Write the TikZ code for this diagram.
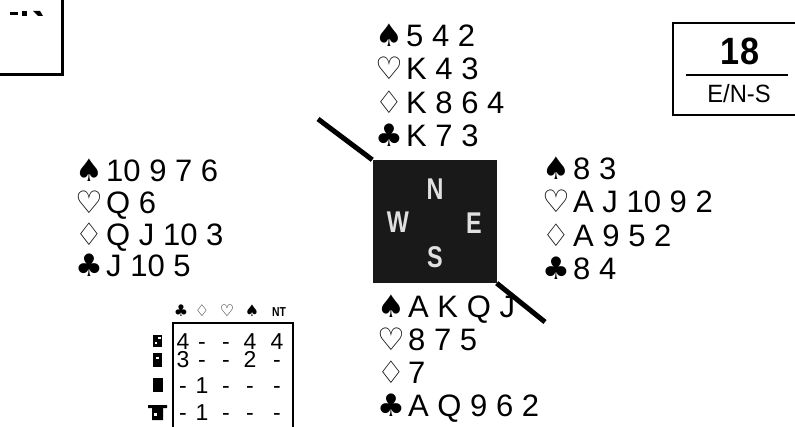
\documentclass[tikz,border=0pt]{standalone}
\usepackage{fontspec}
\setmainfont{Liberation Sans}
\newfontfamily\symfont{DejaVu Sans}
\newcommand{\st}[1]{\makebox[31pt][l]{\symfont #1}}
\tikzset{
  card/.style={anchor=base west, inner sep=0pt, font=\fontsize{31}{33}\selectfont},
  wind/.style={text=black!12, inner sep=0pt, xscale=0.78, font=\fontsize{30}{30}\selectfont\bfseries},
  cell/.style={anchor=base, inner sep=0pt, font=\fontsize{23}{23}\selectfont},
  head/.style={anchor=base, inner sep=0pt, font=\fontsize{16}{16}\selectfont\symfont},
}

\begin{document}
\begin{tikzpicture}[x=1pt,y=-1pt]
\useasboundingbox (0,0) rectangle (795,427);

% corner of the previous board
\draw [black, line width=3pt] (0,75) -- (62,75) -- (62,-5);
\fill (10,12) rectangle (18,15);
\fill (22,11) rectangle (27,16);
\fill (33,11) -- (40,11) -- (43,16) -- (38,16) -- cycle;

% board number
\draw [black, line width=2pt] (800,23) -- (673,23) -- (673,115) -- (800,115);
\draw [black, line width=2pt] (686,75) -- (788,75);
\node [inner sep=0pt, xscale=0.9, font=\fontsize{38}{38}\selectfont\bfseries] (board) at (740,51) {18};
\node [inner sep=0pt, xscale=0.95, font=\fontsize{25}{25}\selectfont] (dealer) at (739,94) {E/N-S};

% table
\node [fill=black!90, minimum width=124pt, minimum height=123pt, inner sep=0pt] (table) at (434.5,221.5) {};
\node [wind] (wn) at (435,189) {N};
\node [wind] (ww) at (398,222) {W};
\node [wind] (we) at (474,223) {E};
\node [wind] (ws) at (435,257) {S};
\coordinate (nwend) at (318,119);
\coordinate (seend) at (545,322);
\draw [black, line width=5pt] (nwend) -- (table.north west);
\draw [black, line width=5pt] (table.south east) -- (seend);

% north
\node [card] (n1) at (375,47) {\st{♠}5 4 2};
\node [card] (n2) at (375,80) {\st{♡}K 4 3};
\node [card] (n3) at (375,114) {\st{♢}K 8 6 4};
\node [card] (n4) at (375,147) {\st{♣}K 7 3};

% west
\node [card] (w1) at (75,182) {\st{♠}10 9 7 6};
\node [card] (w2) at (75,214) {\st{♡}Q 6};
\node [card] (w3) at (75,246) {\st{♢}Q J 10 3};
\node [card] (w4) at (75,277) {\st{♣}J 10 5};

% east
\node [card] (e1) at (542,180) {\st{♠}8 3};
\node [card] (e2) at (542,213) {\st{♡}A J 10 9 2};
\node [card] (e3) at (542,247) {\st{♢}A 9 5 2};
\node [card] (e4) at (542,280) {\st{♣}8 4};

% south
\node [card] (s1) at (377,318) {\st{♠}A K Q J};
\node [card] (s2) at (377,351) {\st{♡}8 7 5};
\node [card] (s3) at (377,384) {\st{♢}7};
\node [card] (s4) at (377,417) {\st{♣}A Q 9 6 2};

% makeable contracts
\node [head] (hc) at (181,317) {♣};
\node [head] (hd) at (202,317) {♢};
\node [head] (hh) at (227,317) {♡};
\node [head] (hs) at (252,317) {♠};
\node [anchor=base, inner sep=0pt, xscale=0.8, font=\fontsize{13}{13}\selectfont\bfseries] (hnt) at (279,317) {NT};
\draw [black, line width=1.5pt] (173,440) -- (173,323) -- (293,323) -- (293,440);

\fill (153,335) rectangle (162,347);
\fill [white] (158,337) rectangle (160.5,339.5);
\fill [white] (154.5,342) rectangle (157,344.5);
\fill (153,353) rectangle (162,367);
\fill [white] (156,357) rectangle (158.5,359.5);
\fill (153,378) rectangle (163,392);
\fill (148,405) -- (167,405) -- (167,408) -- (163,408) -- (163,420) -- (152,420) -- (152,408) -- (148,408) -- cycle;
\fill [white] (154,413) rectangle (156.5,415.5);

\node [cell] (r1a) at (183,350) {4};
\node [cell] (r1b) at (202,350) {-};
\node [cell] (r1c) at (226,350) {-};
\node [cell] (r1d) at (250,350) {4};
\node [cell] (r1e) at (277,350) {4};
\node [cell] (r2a) at (183,368) {3};
\node [cell] (r2b) at (202,368) {-};
\node [cell] (r2c) at (226,368) {-};
\node [cell] (r2d) at (250,368) {2};
\node [cell] (r2e) at (277,368) {-};
\node [cell] (r3a) at (183,393) {-};
\node [cell] (r3b) at (202,393) {1};
\node [cell] (r3c) at (226,393) {-};
\node [cell] (r3d) at (250,393) {-};
\node [cell] (r3e) at (277,393) {-};
\node [cell] (r4a) at (183,420) {-};
\node [cell] (r4b) at (202,420) {1};
\node [cell] (r4c) at (226,420) {-};
\node [cell] (r4d) at (250,420) {-};
\node [cell] (r4e) at (277,420) {-};

\end{tikzpicture}
\end{document}
